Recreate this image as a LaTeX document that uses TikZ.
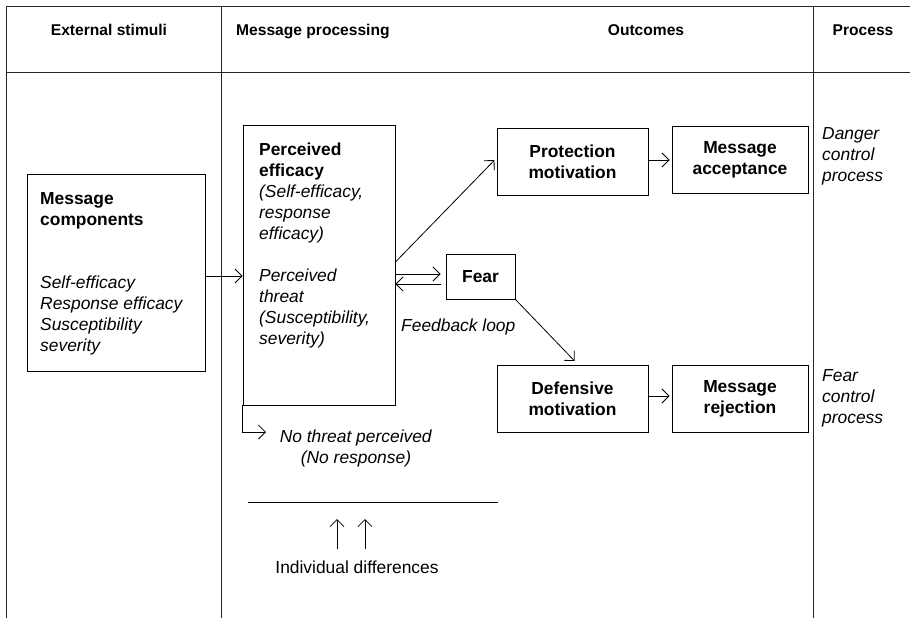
\documentclass[tikz,border=0pt]{standalone}
\usepackage{fontspec}
\setmainfont{Liberation Sans}
\usetikzlibrary{arrows.meta}
\newcommand\fsBody{\fontsize{17.4}{21}\selectfont}
\newcommand\fsHead{\fontsize{15.6}{19}\selectfont\bfseries}
\begin{document}
\begin{tikzpicture}[x=1pt,y=-1pt,
  frame/.style={line width=1pt, draw=black!85},
  box/.style={draw, line width=0.9pt, inner sep=0pt, align=center, font=\fsBody\bfseries},
  arr/.style={line width=0.8pt, -{Straight Barb[length=7pt,width=14pt,line width=0.8pt]}},
  plain/.style={line width=0.8pt},
  txt/.style={inner sep=0pt, anchor=north west, align=left, font=\fsBody},
  head/.style={inner sep=0pt, anchor=base, font=\fsHead},
]
\useasboundingbox (0,0) rectangle (910,618);

% table frame
\draw[frame] (6,7) -- (910,7);
\draw[frame] (6,72.5) -- (910,72.5);
\draw[frame] (6,7) -- (6,618);
\draw[frame] (221,7) -- (221,618);
\draw[frame] (813,7) -- (813,618);

% column headings
\node[head] (h1) at (109,36) {External stimuli};
\node[head, anchor=base west] (h2) at (236,36) {Message processing};
\node[head] (h3) at (646,36) {Outcomes};
\node[head] (h4) at (863,36) {Process};

% boxes
\node[box, minimum width=178pt, minimum height=197pt] (mc) at (116,272.5) {};
\node[box, minimum width=152pt, minimum height=280pt] (pe) at (319,265) {};
\node[box, minimum width=151pt, minimum height=67pt] (prot) at (572.5,161.5) {Protection\\motivation};
\node[box, minimum width=136pt, minimum height=67pt] (acc) at (740,159.5) {Message\\acceptance};
\node[box, minimum width=69pt, minimum height=45pt] (fear) at (480.5,276.5) {Fear};
\node[box, minimum width=151pt, minimum height=67pt] (def) at (572.5,398.5) {Defensive\\motivation};
\node[box, minimum width=136pt, minimum height=67pt] (rej) at (740,398.5) {Message\\rejection};

% text inside the large boxes
\node[txt] (mctitle) at (40,189.3) {\strut\textbf{Message}\\\textbf{components}};
\node[txt] (mcitems) at (40,273.3) {\strut\textit{Self-efficacy}\\\textit{Response efficacy}\\\textit{Susceptibility}\\\textit{severity}};
\node[txt] (petext) at (259,140.3) {\strut\textbf{Perceived}\\\textbf{efficacy}\\\textit{(Self-efficacy,}\\\textit{response}\\\textit{efficacy)}\\[21pt]\textit{Perceived}\\\textit{threat}\\\textit{(Susceptibility,}\\\textit{severity)}};

% free labels
\node[txt] (fb) at (401,316.3) {\strut\textit{Feedback loop}};
\node[txt] (danger) at (822,124.3) {\strut\textit{Danger}\\\textit{control}\\\textit{process}};
\node[txt] (fearproc) at (822,366.3) {\strut\textit{Fear}\\\textit{control}\\\textit{process}};
\node[txt, anchor=north, align=center] (nt) at (356,427.3) {\strut\textit{No threat perceived}\\\textit{(No response)}};
\node[inner sep=0pt, anchor=base, font=\fsBody] (ind) at (357,573) {Individual differences};

% connectors
\draw[arr] (mc.east |- 0,276) -- (pe.west |- 0,276);
\draw[arr, shorten >=3pt] (pe.east |- 0,262) -- (prot.west |- 0,158);
\draw[arr, shorten >=5pt] (pe.east |- 0,274) -- (fear.west |- 0,274);
\draw[arr, shorten <=5pt] (fear.west |- 0,284) -- (pe.east |- 0,284);
\draw[arr, shorten >=5pt] (fear.south east) -- ([xshift=5.5pt]def.north);
\draw[arr, shorten >=2pt] (prot.east |- 0,160) -- (acc.west |- 0,160);
\draw[arr, shorten >=2pt] (def.east |- 0,396) -- (rej.west |- 0,396);

% no-threat branch
\coordinate (ntend) at (266,432);
\draw[arr] (pe.south west) |- (ntend);

% individual differences
\coordinate (hl1) at (248,502);
\coordinate (hl2) at (498,502);
\draw[plain] (hl1) -- (hl2);
\draw[arr, shorten <=11pt, shorten >=17pt] (ind.north -| 337,0) -- (hl1 -| 337,0);
\draw[arr, shorten <=11pt, shorten >=17pt] (ind.north -| 365,0) -- (hl1 -| 365,0);
\end{tikzpicture}
\end{document}
